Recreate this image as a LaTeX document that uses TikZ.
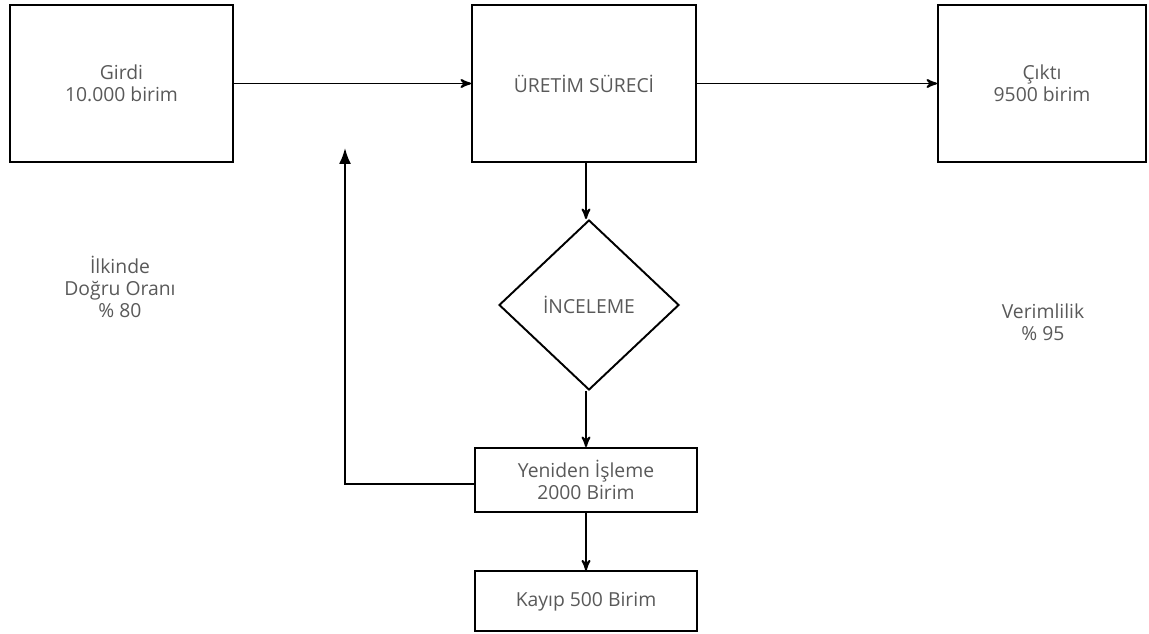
\documentclass[tikz,border=0pt]{standalone}
\usepackage{fontspec}
\setmainfont{Open Sans}
\colorlet{colorText}{black!65}
\usetikzlibrary{arrows, arrows.meta, positioning, shapes.geometric}
\tikzset{
  kutu/.style={draw, rectangle, line width=1.1pt, align=center, text=colorText, font=\fontsize{11}{12.5}\selectfont},
  karar/.style={draw, diamond, line width=1.1pt, inner sep=0pt, minimum width=3.6cm, minimum height=3.4cm, text=colorText, font=\fontsize{11}{12.5}\selectfont},
  etiket/.style={align=center, text=colorText, font=\fontsize{11}{12.5}\selectfont}
}

\begin{document}
\begin{tikzpicture}[>=stealth', line width=1.1pt]
\useasboundingbox (0,0) rectangle (22.98,-12.68);
\node[kutu, minimum width=4.46cm, minimum height=3.14cm] (girdi) at (2.43,-1.67) {Girdi\\10.000 birim};
\node[kutu, minimum width=4.48cm, minimum height=3.14cm] (uretim) at (11.68,-1.67) {ÜRETİM SÜRECİ};
\node[kutu, minimum width=4.16cm, minimum height=3.14cm] (cikti) at (20.84,-1.67) {Çıktı\\9500 birim};
\node[karar] (inceleme) at (11.78,-6.1) {İNCELEME};
\node[kutu, minimum width=4.44cm, minimum height=1.28cm] (yeniden) at (11.72,-9.6) {Yeniden İşleme\\2000 Birim};
\node[kutu, minimum width=4.44cm, minimum height=1.2cm, below=1.15cm of yeniden] (kayip) {Kayıp 500 Birim};
\node[etiket] (ilkinde) at (2.4,-5.74) {İlkinde\\Doğru Oranı\\\% 80};
\node[etiket] (verim) at (20.86,-6.44) {Verimlilik\\\% 95};
\coordinate (donus) at (6.9,-2.96);
% ana akis
\draw [->] (girdi) -- (uretim);
\draw [->] (uretim) -- (cikti);
\draw [->] (uretim.south -| yeniden.north) -- (inceleme.north -| yeniden.north);
\draw [->] (inceleme.south -| yeniden.north) -- (yeniden);
\draw [->] (yeniden) -- (kayip);
% yeniden isleme donusu
\draw [-{Latex[length=3.2mm, width=2.4mm]}] ([yshift=-0.08cm]yeniden.west) -| (donus);
\end{tikzpicture}
\end{document}
